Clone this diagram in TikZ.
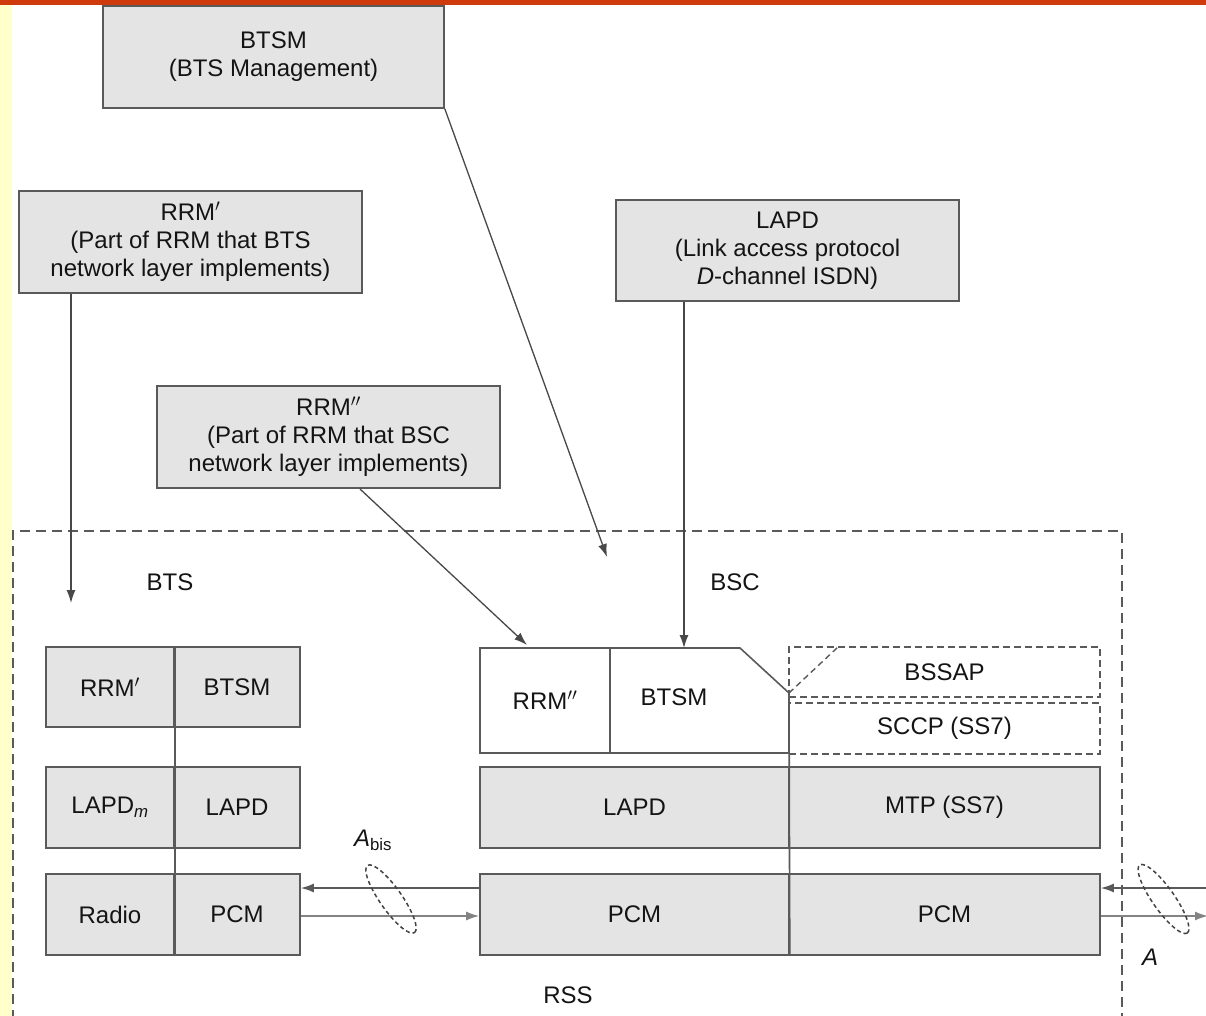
\documentclass[tikz,border=0pt]{standalone}
\usepackage{fontspec}
\setmainfont{Liberation Sans}
\usetikzlibrary{arrows.meta,shapes.geometric}
\definecolor{boxgray}{HTML}{E4E4E4}
\definecolor{linegray}{HTML}{5A5A5A}
\definecolor{barred}{HTML}{CF3A0C}
\definecolor{stripyellow}{HTML}{FFFFCC}
\definecolor{ink}{HTML}{141414}
\tikzset{
  base/.style={font=\fontsize{24}{28}\selectfont, text=ink},
  infobox/.style={base, draw=linegray, line width=1.6pt, fill=boxgray, align=center, inner sep=0pt},
  cell/.style={base, draw=linegray, line width=1.6pt, fill=boxgray, inner sep=0pt},
  dcell/.style={base, draw=linegray, line width=1.4pt, dash pattern=on 7pt off 4pt, inner sep=0pt},
  plain/.style={base, inner sep=0pt},
  arr/.style={draw=linegray!80!black, line width=1.3pt, -{Latex[length=13pt,width=9pt]}},
  link/.style={draw=linegray, line width=1.6pt, -{Latex[length=13pt,width=9pt]}},
  ring/.style={ellipse, draw=ink!80, line width=1.5pt, dash pattern=on 4pt off 3pt, inner sep=0pt},
  rssframe/.style={draw=linegray, line width=1.4pt, dash pattern=on 10pt off 6pt},
}
\begin{document}
\begin{tikzpicture}[x=1pt,y=-1pt]
\useasboundingbox (0,0) rectangle (1206,1016);
\fill[white] (0,0) rectangle (1206,1016);
% page decoration: top bar and side strip
\fill[stripyellow] (0,5) rectangle (12,1016);
\fill[barred] (0,0) rectangle (1206,5);

% description boxes
\node[infobox, minimum width=341pt, minimum height=102pt] (btsmTop) at (273.5,57) {BTSM\\(BTS Management)};
\node[infobox, minimum width=343pt, minimum height=102pt] (rrmOneTop) at (190.5,242) {RRM$'$\\(Part of RRM that BTS\\network layer implements)};
\node[infobox, minimum width=343pt, minimum height=101pt] (lapdTop) at (787.5,250.5) {LAPD\\(Link access protocol\\\textit{D}-channel ISDN)};
\node[infobox, minimum width=343pt, minimum height=102pt] (rrmTwoTop) at (328.5,437) {RRM$''$\\(Part of RRM that BSC\\network layer implements)};

% RSS frame
\draw[rssframe] (13,1020) -- (13,531) -- (1122,531) -- (1122,1020);
\node[plain] (btsLabel) at (170,582) {BTS};
\node[plain] (bscLabel) at (735,582) {BSC};
\node[plain] (rssLabel) at (568,995) {RSS};

% BTS protocol stack
\node[cell, minimum width=128pt, minimum height=80pt] (bRRM) at (110,687) {RRM$'$};
\node[cell, minimum width=126pt, minimum height=80pt] (bBTSM) at (237,687) {BTSM};
\node[cell, minimum width=128pt, minimum height=81pt] (bLAPDm) at (110,807.5) {LAPD\textsubscript{\itshape m}};
\node[cell, minimum width=126pt, minimum height=81pt] (bLAPD) at (237,807.5) {LAPD};
\node[cell, minimum width=128pt, minimum height=81pt] (bRadio) at (110,914.5) {Radio};
\node[cell, minimum width=126pt, minimum height=81pt] (bPCM) at (237,914.5) {PCM};
\draw[linegray, line width=1.6pt] (bRRM.north east) -- (bRadio.south east);

% BSC protocol stack
\node[plain] (sRRM) at (545,700) {RRM$''$};
\node[plain] (sBTSM) at (674,697) {BTSM};
\node[dcell, minimum width=311pt, minimum height=50pt] (sBSSAP) at (944.5,672) {BSSAP};
\node[dcell, minimum width=311pt, minimum height=51pt] (sSCCP) at (944.5,728.5) {SCCP (SS7)};
\coordinate (bscTop) at (684,648);
\coordinate (bscNotch) at (740,648);
\coordinate (bscApex) at (789,693);
\draw[linegray, line width=1.6pt] (480,648) -- (bscNotch) -- (bscApex) -- (789,753) -- (480,753) -- cycle;
\draw[linegray, line width=1.6pt] (610,648) -- (610,753);
\draw[linegray, line width=1.4pt, dash pattern=on 6pt off 4pt] (bscApex) -- (838,647);
\node[cell, minimum width=309pt, minimum height=81pt] (sLAPD) at (634.5,807.5) {LAPD};
\node[cell, minimum width=311pt, minimum height=81pt] (sMTP) at (944.5,807.5) {MTP (SS7)};
\node[cell, minimum width=309pt, minimum height=81pt] (sPCMa) at (634.5,914.5) {PCM};
\node[cell, minimum width=311pt, minimum height=81pt] (sPCMb) at (944.5,914.5) {PCM};
\draw[linegray, line width=1.6pt] (bscApex) -- (sPCMa.south east);

% connectors from the description boxes
\coordinate (btsTip) at (71,603);
\coordinate (btsmTip) at (607,557);
\coordinate (rrmTwoFoot) at (360,489);
\coordinate (rrmTwoTip) at (527,645);
\draw[arr] (rrmOneTop.south -| btsTip) -- (btsTip);
\draw[arr] (btsmTop.south east) -- (btsmTip);
\draw[arr] (lapdTop.south -| bscTop) -- (bscTop);
\draw[arr] (rrmTwoFoot) -- (rrmTwoTip);

% Abis interface
\draw[link] ([yshift=26.5pt]sPCMa.west) -- ([yshift=26.5pt]bPCM.east);
\draw[link, draw=linegray!75] ([yshift=-1.5pt]bPCM.east) -- ([yshift=-1.5pt]sPCMa.west);
\node[ring, minimum width=82pt, minimum height=22pt, rotate=-55] (abisRing) at (391,899) {};
\node[plain] (abisLabel) at (373,840) {\textit{A}\textsubscript{bis}};

% A interface
\coordinate (aInTail) at (1210,888);
\coordinate (aOutTip) at (1208,916);
\draw[link] (aInTail) -- ([yshift=26.5pt]sPCMb.east);
\draw[link, draw=linegray!75] ([yshift=-1.5pt]sPCMb.east) -- (aOutTip);
\node[ring, minimum width=83pt, minimum height=22pt, rotate=-55] (aRing) at (1163.5,899) {};
\node[plain] (aLabel) at (1150,957) {\textit{A}};
\end{tikzpicture}
\end{document}
